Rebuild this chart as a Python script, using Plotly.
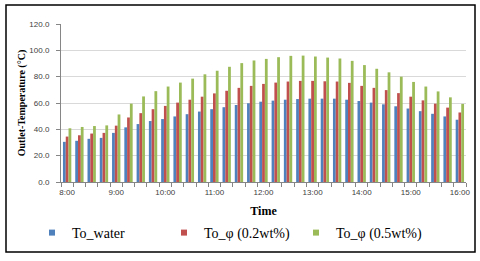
import plotly.graph_objects as go

times = ["8:00", "8:15", "8:30", "8:45", "9:00", "9:15", "9:30", "9:45",
         "10:00", "10:15", "10:30", "10:45", "11:00", "11:15", "11:30", "11:45",
         "12:00", "12:15", "12:30", "12:45", "13:00", "13:15", "13:30", "13:45",
         "14:00", "14:15", "14:30", "14:45", "15:00", "15:15", "15:30", "15:45",
         "16:00"]

to_water = [30.5, 31.3, 32.8, 33.5, 37.3, 41.5, 44.0, 46.3, 47.8, 49.8, 51.5,
            53.5, 55.3, 56.8, 58.5, 59.8, 61.0, 61.8, 62.5, 63.0, 63.3, 63.3,
            63.3, 62.5, 61.5, 60.3, 59.0, 57.5, 55.8, 53.8, 51.8, 49.8, 47.3]
to_phi_02 = [34.5, 35.5, 36.8, 37.3, 42.8, 49.0, 52.3, 55.3, 57.8, 60.3, 62.5,
             64.8, 67.3, 69.3, 71.5, 73.0, 74.5, 75.5, 76.3, 76.8, 76.8, 76.5,
             76.3, 75.3, 73.0, 71.5, 69.8, 67.5, 64.8, 62.0, 59.5, 56.5, 52.8]
to_phi_05 = [40.8, 41.8, 42.5, 43.0, 51.3, 59.5, 65.0, 69.0, 72.5, 75.5, 78.5,
             81.8, 84.5, 87.5, 90.3, 92.3, 93.5, 94.8, 95.8, 96.0, 95.3, 94.5,
             93.8, 92.0, 88.8, 86.0, 83.3, 80.0, 76.0, 72.5, 68.8, 64.3, 59.3]

tick_labels = ["8:00", "", "", "", "9:00", "", "", "", "10:00", "", "", "",
               "11:00", "", "", "", "12:00", "", "", "", "13:00", "", "", "",
               "14:00", "", "", "", "15:00", "", "", "", "16:00"]

series = [
    ("To_water", to_water, "#4F81BD"),
    ("To_\u03c6 (0.2wt%)", to_phi_02, "#C0504D"),
    ("To_\u03c6 (0.5wt%)", to_phi_05, "#9BBB59"),
]

W, H = 480, 261
L, R, T, B = 61, 14, 24, 79
pw, ph = W - L - R, H - T - B

fig = go.Figure()
for name, vals, col in series:
    fig.add_trace(go.Bar(x=times, y=vals, name=name, marker_color=col,
                         marker_line_width=0, showlegend=False))
# small square legend markers
for name, vals, col in series:
    fig.add_trace(go.Scatter(x=[None], y=[None], mode="markers", name=name,
                             marker=dict(symbol="square", size=6, color=col)))

def px_x(x):
    return (x - L) / pw

def px_y(y):
    return (H - B - y) / ph

fig.add_shape(type="rect", xref="paper", yref="paper",
              x0=px_x(6), x1=px_x(475), y0=px_y(252), y1=px_y(5),
              line=dict(color="#000000", width=1.5), fillcolor="rgba(0,0,0,0)",
              layer="below")

fig.update_layout(
    width=W, height=H,
    margin=dict(l=L, r=R, t=T, b=B, pad=0, autoexpand=False),
    paper_bgcolor="white", plot_bgcolor="white",
    barmode="group", bargap=0.32, bargroupgap=0,
    font=dict(family="Liberation Sans", size=8, color="#404040"),
    xaxis=dict(
        type="category", categoryorder="array", categoryarray=times,
        tickmode="array", tickvals=times, ticktext=tick_labels,
        tickson="boundaries", ticks="outside", ticklen=4, tickcolor="#868686",
        tickangle=0, automargin=False, ticklabelstandoff=2,
        showline=True, linecolor="#868686", linewidth=1, showgrid=False,
        tickfont=dict(family="Liberation Sans", size=8, color="#404040"),
        title=dict(text="<b>Time</b>", standoff=11,
                   font=dict(family="Liberation Serif", size=12, color="#000000")),
    ),
    yaxis=dict(
        range=[0, 120], dtick=20, tickformat=".1f",
        ticks="outside", ticklen=4, tickcolor="#868686", ticklabelstandoff=5,
        showline=True, linecolor="#868686", linewidth=1, automargin=False,
        showgrid=True, gridcolor="#D9D9D9", gridwidth=1, zeroline=False,
        tickfont=dict(family="Liberation Sans", size=8, color="#404040"),
        title=dict(text="<b>Outlet-Temperature (\u00b0C)</b>", standoff=1,
                   font=dict(family="Liberation Serif", size=10, color="#000000")),
    ),
    legend=dict(orientation="h", x=px_x(32), y=px_y(233), yanchor="middle",
                xanchor="left", entrywidth=87, entrywidthmode="pixels",
                font=dict(family="Liberation Serif", size=14, color="#000000"),
                bgcolor="rgba(0,0,0,0)", itemwidth=30),
)

fig.write_html("out.html", config={"displayModeBar": False},
               post_script="document.body.style.margin='0';document.body.style.padding='0';")
